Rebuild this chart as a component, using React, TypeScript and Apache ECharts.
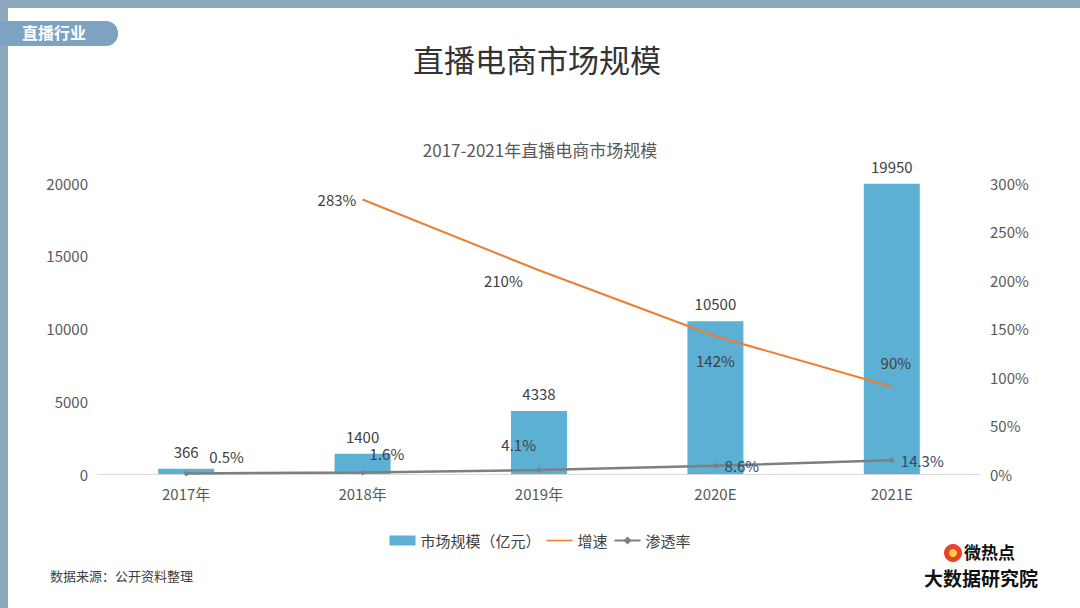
import React, { useEffect, useRef } from "react";
import * as echarts from "echarts";

const categories = ["2017年", "2018年", "2019年", "2020E", "2021E"];
const marketSize = [366, 1400, 4338, 10500, 19950];
const growth: (number | null)[] = [null, 283, 210, 142, 90];
const penetration = [0.5, 1.6, 4.1, 8.6, 14.3];

const growthLabels = [
  { position: "top", distance: 10, offset: [0, 0] },
  { position: "left", distance: 6, offset: [0, 0] },
  { position: "left", distance: 16, offset: [0, 10] },
  { position: "bottom", distance: 16, offset: [0, 0] },
  { position: "top", distance: 16, offset: [4, 0] },
];
const penetrationLabels = [
  { position: "right", distance: 6, offset: [14, -17], color: "#404040" },
  { position: "right", distance: 2, offset: [2, -19], color: "#404040" },
  { position: "left", distance: 0, offset: [0, -26], color: "#404040" },
  { position: "right", distance: 6, offset: [0, 0], color: "#2f4a66" },
  { position: "right", distance: 6, offset: [0, 0], color: "#2f4a66" },
];

export default function App() {
  const ref = useRef<HTMLDivElement>(null);
  useEffect(() => {
    const chart = echarts.init(ref.current!, null, { renderer: "svg" });
    const font = "'Noto Sans CJK SC', 'Noto Sans', sans-serif";
    chart.setOption({
      animation: false,
      backgroundColor: "#ffffff",
      textStyle: { fontFamily: font },
      title: [
        {
          text: "直播电商市场规模",
          left: 408,
          top: 38,
          textStyle: { fontSize: 31, fontWeight: "normal", color: "#333333", fontFamily: font },
        },
        {
          text: "2017-2021年直播电商市场规模",
          left: "center",
          top: 136,
          textStyle: { fontSize: 17, fontWeight: "normal", color: "#595959", fontFamily: font },
        },
      ],
      legend: {
        bottom: 55,
        left: "center",
        itemGap: 6,
        itemWidth: 26,
        itemHeight: 10,
        textStyle: { fontSize: 15, color: "#404040", fontFamily: font },
        data: [
          { name: "市场规模（亿元）", icon: "rect" },
          { name: "增速", icon: "path://M0,4.2 L26,4.2 L26,5.8 L0,5.8 Z", itemStyle: { color: "#ed7d31", opacity: 1 } },
          { name: "渗透率" },
        ],
      },
      grid: { left: 98, right: 100, top: 183, bottom: 134 },
      xAxis: {
        type: "category",
        data: categories,
        axisTick: { show: false },
        axisLine: { lineStyle: { color: "#d9d9d9" } },
        axisLabel: { color: "#595959", fontSize: 15, margin: 12 },
      },
      yAxis: [
        {
          type: "value",
          min: 0,
          max: 20000,
          interval: 5000,
          splitLine: { show: false },
          axisLabel: { color: "#595959", fontSize: 15, margin: 10, formatter: (v: number) => String(v) },
        },
        {
          type: "value",
          min: 0,
          max: 300,
          interval: 50,
          splitLine: { show: false },
          axisLabel: { color: "#595959", fontSize: 15, margin: 10, formatter: "{value}%" },
        },
      ],
      series: [
        {
          name: "市场规模（亿元）",
          type: "bar",
          data: marketSize,
          barWidth: 56,
          itemStyle: { color: "#5cb0d4" },
          label: { show: true, position: "top", color: "#404040", fontSize: 15, distance: 10 },
        },
        {
          name: "增速",
          type: "line",
          yAxisIndex: 1,
          data: growth.map((v, i) => ({ value: v, label: growthLabels[i] })),
          symbol: "circle",
          symbolSize: 0.5,
          showSymbol: true,
          lineStyle: { color: "#ed7d31", width: 2 },
          itemStyle: { color: "#ed7d31" },
          label: { show: true, color: "#404040", fontSize: 15, formatter: "{c}%" },
        },
        {
          name: "渗透率",
          type: "line",
          yAxisIndex: 1,
          data: penetration.map((v, i) => ({ value: v, label: penetrationLabels[i] })),
          symbol: "diamond",
          symbolSize: 6,
          lineStyle: { color: "#7f7f7f", width: 2.5 },
          itemStyle: { color: "#7f7f7f" },
          label: { show: true, color: "#404040", fontSize: 15, formatter: "{c}%" },
        },
      ],
      graphic: [
        {
          type: "rect",
          left: 0,
          top: 0,
          shape: { width: 1080, height: 608 },
          style: { fill: "none", stroke: "#8ea9bf", lineWidth: 8 },
          silent: true,
        },
        {
          type: "rect",
          left: 0,
          top: 21,
          shape: { width: 118, height: 25, r: [0, 12, 12, 0] },
          style: { fill: "#7ea2c2" },
        },
        {
          type: "text",
          left: 22,
          top: 24,
          style: { text: "直播行业", fill: "#ffffff", fontSize: 16, fontFamily: font, fontWeight: "bold" },
        },
        {
          type: "text",
          left: 50,
          top: 569,
          style: { text: "数据来源：公开资料整理", fill: "#404040", fontSize: 13, fontFamily: font },
        },
        {
          type: "circle",
          left: 944,
          top: 544,
          shape: { r: 9 },
          style: { fill: "#e8412c" },
        },
        {
          type: "circle",
          left: 949,
          top: 549,
          shape: { r: 4 },
          style: { fill: "#ffd23a" },
        },
        {
          type: "text",
          left: 964,
          top: 543,
          style: { text: "微热点", fill: "#111111", fontSize: 17, fontWeight: "bold", fontFamily: font },
        },
        {
          type: "text",
          left: 924,
          top: 568,
          style: { text: "大数据研究院", fill: "#111111", fontSize: 19, fontWeight: "bold", fontFamily: font },
        },
      ],
    });
    return () => chart.dispose();
  }, []);
  return (
    <div
      ref={ref}
      style={{ position: "fixed", left: 0, top: 0, width: 1080, height: 608 }}
    />
  );
}
